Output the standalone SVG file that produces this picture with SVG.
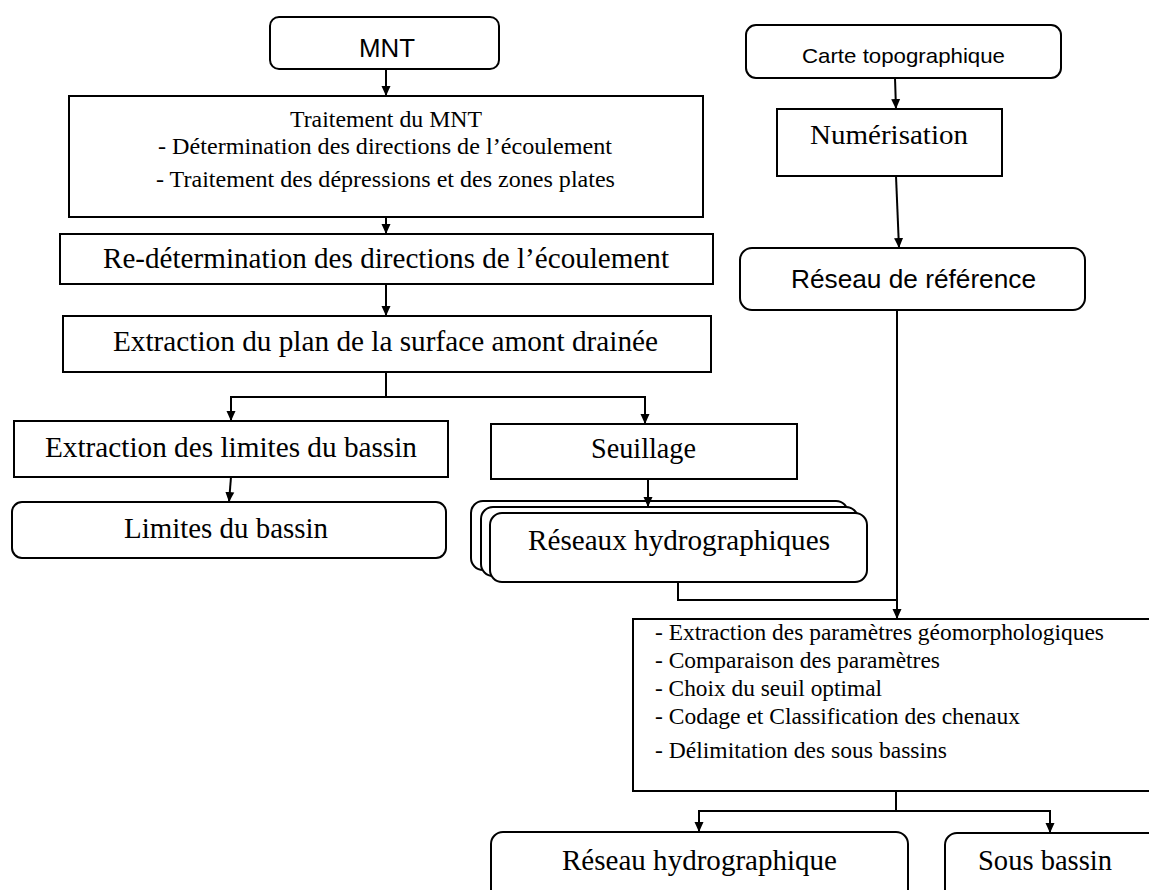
<svg xmlns="http://www.w3.org/2000/svg" width="1149" height="890" viewBox="0 0 1149 890">
<style>
.box{fill:#fff;stroke:#000;stroke-width:2}
.serif{font-family:"Liberation Serif","Times New Roman",serif;fill:#000}
.sans{font-family:"Liberation Sans",Arial,sans-serif;fill:#000}
.c{text-anchor:middle}
.conn{fill:none;stroke:#000;stroke-width:2}
</style>
<defs>
<marker id="arr" viewBox="0 0 10 10" markerUnits="userSpaceOnUse" markerWidth="10" markerHeight="10" refX="10" refY="5" orient="auto">
<path d="M0,0.5 L10,5 L0,9.5 z" fill="#000"/>
</marker>
</defs>
<rect width="1149" height="890" fill="#fff"/>

<g id="mnt">
<rect class="box" x="270" y="17" width="229" height="52" rx="9"/>
<text class="sans c" x="387" y="57" font-size="25" textLength="56" lengthAdjust="spacingAndGlyphs">MNT</text>
</g>

<g id="traitement">
<rect class="box" x="69" y="96" width="634" height="121"/>
<text class="serif c" x="386" y="127" font-size="23" textLength="192" lengthAdjust="spacingAndGlyphs">Traitement du MNT</text>
<text class="serif c" x="385" y="154" font-size="23" textLength="454" lengthAdjust="spacingAndGlyphs">-  Détermination des directions de l’écoulement</text>
<text class="serif c" x="385.5" y="187" font-size="23" textLength="459" lengthAdjust="spacingAndGlyphs">- Traitement des dépressions et des zones plates</text>
</g>

<g id="redetermination">
<rect class="box" x="60" y="234" width="653" height="50"/>
<text class="serif c" x="386" y="268" font-size="29" textLength="566" lengthAdjust="spacingAndGlyphs">Re-détermination des directions de l’écoulement</text>
</g>

<g id="extraction-plan">
<rect class="box" x="63" y="316" width="648" height="56"/>
<text class="serif c" x="385.5" y="351" font-size="29" textLength="545" lengthAdjust="spacingAndGlyphs">Extraction du plan de la surface amont drainée</text>
</g>

<g id="extraction-limites">
<rect class="box" x="14" y="421" width="434" height="56"/>
<text class="serif c" x="231" y="457" font-size="29" textLength="372" lengthAdjust="spacingAndGlyphs">Extraction des limites du bassin</text>
</g>

<g id="limites">
<rect class="box" x="12" y="502" width="434" height="56" rx="10"/>
<text class="serif c" x="226" y="538" font-size="29" textLength="204" lengthAdjust="spacingAndGlyphs">Limites du bassin</text>
</g>

<g id="seuillage">
<rect class="box" x="491" y="424" width="306" height="55"/>
<text class="serif c" x="643.5" y="458" font-size="29" textLength="105" lengthAdjust="spacingAndGlyphs">Seuillage</text>
</g>

<g id="reseaux">
<rect class="box" x="471" y="501" width="377" height="69" rx="12"/>
<rect class="box" x="481" y="507" width="377" height="69" rx="12"/>
<rect class="box" x="490" y="513" width="377" height="69" rx="12"/>
<text class="serif c" x="679" y="550" font-size="29" textLength="302" lengthAdjust="spacingAndGlyphs">Réseaux hydrographiques</text>
</g>

<g id="carte">
<rect class="box" x="746" y="25" width="315" height="53" rx="10"/>
<text class="sans c" x="903.5" y="63" font-size="21" textLength="203" lengthAdjust="spacingAndGlyphs">Carte topographique</text>
</g>

<g id="numerisation">
<rect class="box" x="777" y="109" width="225" height="67"/>
<text class="serif c" x="889" y="144" font-size="28" textLength="158" lengthAdjust="spacingAndGlyphs">Numérisation</text>
</g>

<g id="reseau-reference">
<rect class="box" x="740" y="248" width="345" height="62" rx="12"/>
<text class="sans c" x="913.5" y="288" font-size="25" textLength="245" lengthAdjust="spacingAndGlyphs">Réseau de référence</text>
</g>

<g id="parametres">
<rect class="box" x="633" y="619" width="522" height="172"/>
<text class="serif" x="655" y="640" font-size="23" textLength="449" lengthAdjust="spacingAndGlyphs">- Extraction des paramètres géomorphologiques</text>
<text class="serif" x="655" y="668" font-size="23" textLength="285" lengthAdjust="spacingAndGlyphs">- Comparaison des paramètres</text>
<text class="serif" x="655" y="696" font-size="23" textLength="227" lengthAdjust="spacingAndGlyphs">- Choix du seuil optimal</text>
<text class="serif" x="655" y="724" font-size="23" textLength="365" lengthAdjust="spacingAndGlyphs">- Codage et Classification des chenaux</text>
<text class="serif" x="655" y="758" font-size="23" textLength="292" lengthAdjust="spacingAndGlyphs">- Délimitation des sous bassins</text>
</g>

<g id="reseau-hydro">
<rect class="box" x="491" y="832" width="417" height="80" rx="12"/>
<text class="serif c" x="699.5" y="870" font-size="29" textLength="275" lengthAdjust="spacingAndGlyphs">Réseau hydrographique</text>
</g>

<g id="sous-bassin">
<rect class="box" x="945" y="833" width="220" height="80" rx="12"/>
<text class="serif c" x="1045" y="870" font-size="29" textLength="134" lengthAdjust="spacingAndGlyphs">Sous bassin</text>
</g>

<g id="connectors">
<line class="conn" x1="386" y1="69" x2="386" y2="96" marker-end="url(#arr)"/>
<line class="conn" x1="386" y1="217" x2="386" y2="234" marker-end="url(#arr)"/>
<line class="conn" x1="386" y1="284" x2="386" y2="316" marker-end="url(#arr)"/>
<polyline class="conn" points="386,372 386,397 231,397 231,421" marker-end="url(#arr)"/>
<polyline class="conn" points="386,397 645,397 645,424" marker-end="url(#arr)"/>
<line class="conn" x1="231" y1="477" x2="229" y2="502" marker-end="url(#arr)"/>
<line class="conn" x1="648" y1="479" x2="648" y2="507" marker-end="url(#arr)"/>
<line class="conn" x1="895" y1="78" x2="896" y2="109" marker-end="url(#arr)"/>
<line class="conn" x1="896" y1="176" x2="899" y2="248" marker-end="url(#arr)"/>
<line class="conn" x1="897" y1="310" x2="897" y2="619" marker-end="url(#arr)"/>
<polyline class="conn" points="678,582 678,600 897,600"/>
<polyline class="conn" points="896,791 896,811 699,811 699,832" marker-end="url(#arr)"/>
<polyline class="conn" points="896,811 1050,811 1050,833" marker-end="url(#arr)"/>
</g>
</svg>
